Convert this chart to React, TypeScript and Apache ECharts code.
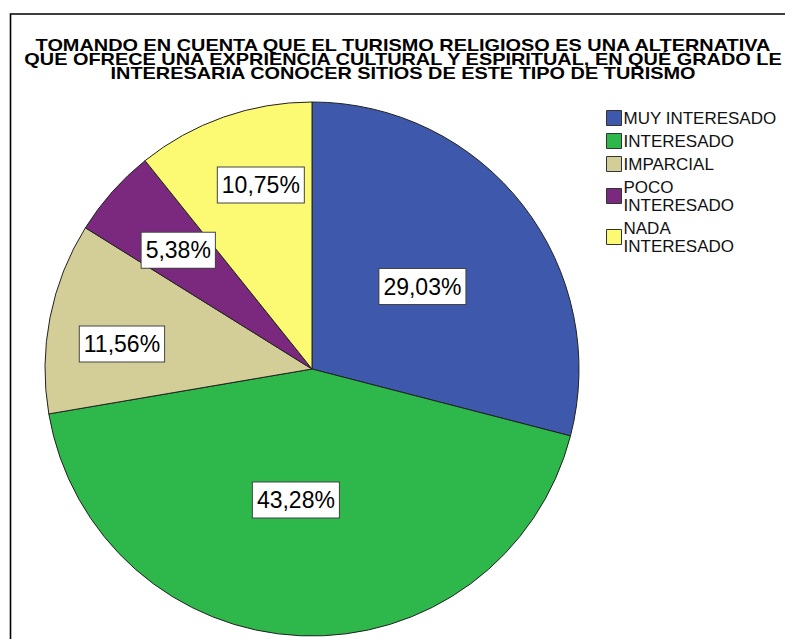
import React, { useEffect, useRef } from "react";
import * as echarts from "echarts";

const categories = ["MUY INTERESADO", "INTERESADO", "IMPARCIAL", "POCO INTERESADO", "NADA INTERESADO"];
const legendLabels = ["MUY INTERESADO", "INTERESADO", "IMPARCIAL", "POCO\nINTERESADO", "NADA\nINTERESADO"];
const percentages = [29.03, 43.28, 11.56, 5.38, 10.75];
const sliceColors = ["#3E58AB", "#2EB84B", "#D3CE97", "#7A297E", "#FCF972"];
const labelRadiusRatio = [0.516, 0.494, 0.718, 0.67, 0.715];
const labelAngleShift = [-1, -4.6, 3.6, 0, -3.8];
const titleLines = [
  "TOMANDO EN CUENTA QUE EL TURISMO RELIGIOSO ES UNA ALTERNATIVA",
  "QUE OFRECE UNA EXPRIENCIA CULTURAL Y ESPIRITUAL, EN QUÉ GRADO LE",
  "INTERESARIA CONOCER SITIOS DE ESTE TIPO DE TURISMO",
];

const FONT = '"Liberation Sans", Arial, Helvetica, sans-serif';
const CX = 312;
const CY = 369;
const R = 267;

export default function App() {
  const ref = useRef<HTMLDivElement>(null);
  useEffect(() => {
    if (!ref.current) return;
    const chart = echarts.init(ref.current, null, { renderer: "svg" });
    const total = percentages.reduce((a, b) => a + b, 0);
    const midAngles: number[] = [];
    let cum = 0;
    percentages.forEach((v) => {
      const mid = cum + v / 2;
      midAngles.push(90 - (mid / total) * 360);
      cum += v;
    });
    chart.setOption({
      animation: false,
      backgroundColor: "#ffffff",
      graphic: [
        {
          type: "rect",
          shape: { x: 10.5, y: 14, width: 1000, height: 1000 },
          style: { fill: "none", stroke: "#000", lineWidth: 1.6 },
          silent: true,
        },
        ...titleLines.map((line, i) => ({
          type: "text",
          x: 403,
          y: 45.5 + i * 14,
          scaleX: 1.17,
          scaleY: 1,
          style: {
            text: line,
            font: `bold 17px ${FONT}`,
            fill: "#000",
            textAlign: "center",
            textVerticalAlign: "middle",
          },
          silent: true,
        })),
      ],
      legend: {
        orient: "vertical",
        left: 601,
        top: 104,
        icon: "rect",
        itemWidth: 15,
        itemHeight: 15,
        itemGap: 5,
        itemStyle: { borderColor: "#333", borderWidth: 1 },
        formatter: (name: string) => legendLabels[categories.indexOf(name)],
        textStyle: {
          fontFamily: FONT,
          fontSize: 17,
          lineHeight: 18,
          color: "#111",
          padding: [0, 0, 0, -3],
        },
        data: categories,
      },
      series: [
        {
          type: "pie",
          center: [CX, CY],
          radius: R,
          startAngle: 90,
          clockwise: true,
          silent: true,
          itemStyle: { borderColor: "#222", borderWidth: 1 },
          label: {
            show: true,
            position: "inside",
            formatter: (p: any) => p.value.toFixed(2).replace(".", ",") + "%",
            fontFamily: FONT,
            fontSize: 23,
            lineHeight: 24,
            color: "#000",
            backgroundColor: "#fff",
            borderColor: "#444",
            borderWidth: 1,
            padding: [6, 4, 5, 4],
          },
          labelLine: { show: false },
          labelLayout: (params: any) => {
            const i = params.dataIndex;
            const a = ((midAngles[i] + labelAngleShift[i]) * Math.PI) / 180;
            const r = R * labelRadiusRatio[i];
            return {
              x: CX + r * Math.cos(a),
              y: CY - r * Math.sin(a),
              align: "center",
              verticalAlign: "middle",
            };
          },
          data: categories.map((c, i) => ({
            name: c,
            value: percentages[i],
            itemStyle: { color: sliceColors[i] },
          })),
        },
      ],
    });
    return () => chart.dispose();
  }, []);
  return (
    <div
      ref={ref}
      style={{ position: "fixed", left: 0, top: 0, width: 785, height: 639 }}
    />
  );
}
